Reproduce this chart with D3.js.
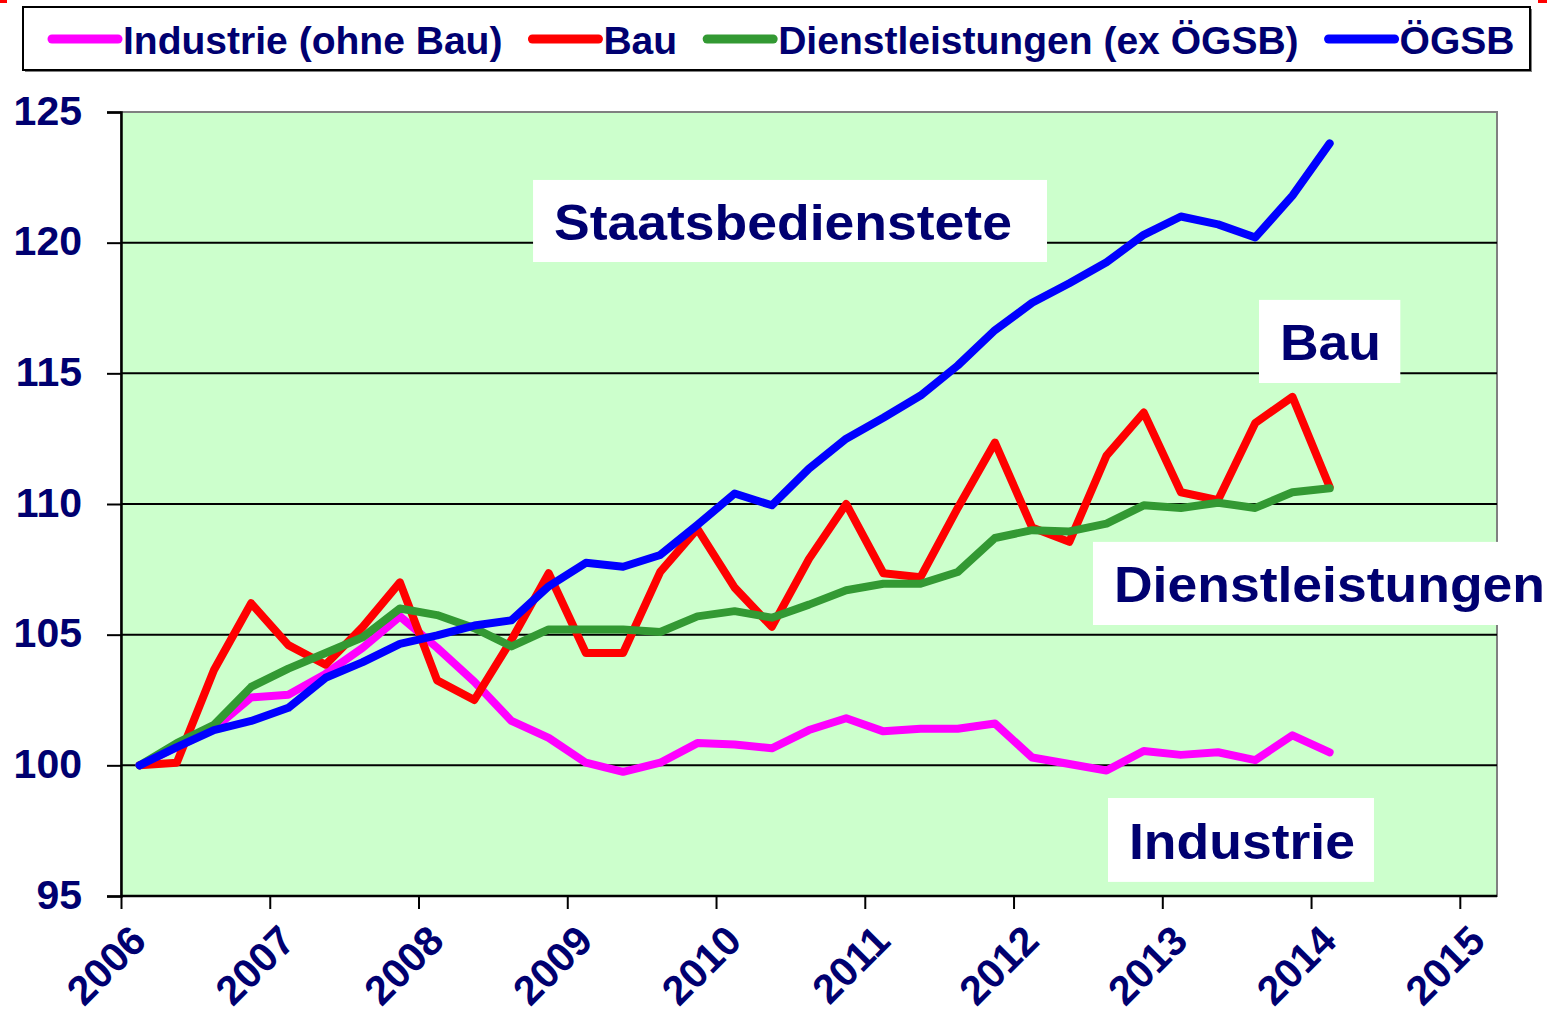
<!DOCTYPE html>
<html>
<head>
<meta charset="utf-8">
<script src="https://cdn.jsdelivr.net/npm/d3@7"></script>
<style>
  body { margin: 0; background: #fff; }
  svg { display: block; font-family: Arial, "Liberation Sans", sans-serif; font-weight: bold; }
</style>
</head>
<body>
<div id="chart"></div>
<script>
// quarterly index, 2006 Q1 = 100
var quarters = ["2006Q1","2006Q2","2006Q3","2006Q4","2007Q1","2007Q2","2007Q3","2007Q4",
  "2008Q1","2008Q2","2008Q3","2008Q4","2009Q1","2009Q2","2009Q3","2009Q4",
  "2010Q1","2010Q2","2010Q3","2010Q4","2011Q1","2011Q2","2011Q3","2011Q4",
  "2012Q1","2012Q2","2012Q3","2012Q4","2013Q1","2013Q2","2013Q3","2013Q4","2014Q1"];

var industrie = [100.0, 100.7, 101.4, 102.6, 102.7, 103.5, 104.5, 105.7,
  104.5, 103.2, 101.7, 101.05, 100.1, 99.75, 100.1, 100.85,
  100.8, 100.65, 101.35, 101.8, 101.3, 101.4, 101.4, 101.6,
  100.3, 100.05, 99.8, 100.55, 100.4, 100.5, 100.2, 101.15, 100.5];

var bau = [100.0, 100.1, 103.65, 106.2, 104.6, 103.85, 105.3, 107.0,
  103.25, 102.5, 104.8, 107.35, 104.3, 104.3, 107.4, 109.05,
  106.8, 105.3, 107.9, 110.0, 107.35, 107.2, 109.85, 112.35,
  109.1, 108.55, 111.85, 113.5, 110.45, 110.15, 113.1, 114.1, 110.65];

var dienstleistungen = [100.0, 100.85, 101.55, 103.0, 103.7, 104.3, 104.9, 106.0,
  105.75, 105.25, 104.55, 105.2, 105.2, 105.2, 105.1, 105.7,
  105.9, 105.65, 106.15, 106.7, 106.95, 106.95, 107.4, 108.7,
  109.0, 108.95, 109.25, 109.95, 109.85, 110.05, 109.85, 110.45, 110.6];

var oegsb = [100.0, 100.7, 101.35, 101.7, 102.2, 103.35, 103.95, 104.65,
  104.97, 105.35, 105.55, 106.85, 107.75, 107.6, 108.05, 109.2,
  110.4, 109.95, 111.35, 112.5, 113.3, 114.15, 115.3, 116.65,
  117.7, 118.45, 119.25, 120.3, 121.0, 120.7, 120.2, 121.8, 123.8];

var seriesNames = ["Industrie (ohne Bau)", "Bau", "Dienstleistungen (ex ÖGSB)", "ÖGSB"];
var seriesColors = ["#ff00ff", "#ff0000", "#339933", "#0000ff"];
var seriesValues = [industrie, bau, dienstleistungen, oegsb];

var yTicks = [95, 100, 105, 110, 115, 120, 125];
var xTicks = [2006, 2007, 2008, 2009, 2010, 2011, 2012, 2013, 2014, 2015];

// text boxes inside the plot, placed in data units
var annotations = [
  { text: "Staatsbedienstete", x0: 2008.77, x1: 2012.225, y0: 122.4, y1: 119.26 },
  { text: "Bau", x0: 2013.65, x1: 2014.6, y0: 117.81, y1: 114.63 },
  { text: "Dienstleistungen", x0: 2012.534, x1: 2015.6, y0: 108.55, y1: 105.37 },
  { text: "Industrie", x0: 2012.635, x1: 2014.423, y0: 98.75, y1: 95.54 }
];

var width = 1547, height = 1018;
var margin = { top: 112, right: 50, bottom: 122, left: 121 };
var textColor = "#000070";

var svg = d3.select("#chart").append("svg")
  .attr("width", width)
  .attr("height", height);

var x = d3.scaleLinear().domain([2006, 2015.25]).range([margin.left, width - margin.right]);
var y = d3.scaleLinear().domain([95, 125]).range([height - margin.bottom, margin.top]);

function quarterPos(q) {
  var yr = +q.slice(0, 4), n = +q.slice(5);
  return yr + (n - 1) / 4 + 0.125;
}

// the original text is a little wider than Liberation Sans Bold
function widen(sel, f) {
  sel.each(function () {
    var len = this.getComputedTextLength();
    d3.select(this).attr("textLength", len * f).attr("lengthAdjust", "spacingAndGlyphs");
  });
}

// plot background
svg.append("rect")
  .attr("x", x(2006)).attr("y", y(125))
  .attr("width", x(2015.25) - x(2006)).attr("height", y(95) - y(125))
  .style("fill", "#ccffcc")
  .style("stroke", "#808080")
  .style("stroke-width", 2);

// gridlines
svg.append("g").selectAll("line")
  .data(yTicks.filter(function (d) { return d > 95 && d < 125; }))
  .enter().append("line")
  .attr("x1", x(2006)).attr("x2", x(2015.25))
  .attr("y1", function (d) { return y(d); })
  .attr("y2", function (d) { return y(d); })
  .style("stroke", "#000")
  .style("stroke-width", 2);

// y axis
var yAxis = svg.append("g")
  .attr("transform", "translate(" + x(2006) + ",0)")
  .call(d3.axisLeft(y).tickValues(yTicks).tickSize(14).tickPadding(25));
yAxis.select(".domain").style("stroke", "#000").style("stroke-width", 2.5);
yAxis.selectAll(".tick line").style("stroke", "#000").style("stroke-width", 2);
yAxis.selectAll(".tick text")
  .style("font-size", "41px")
  .style("font-family", "Arial, 'Liberation Sans', sans-serif")
  .style("font-weight", "bold")
  .style("fill", textColor)
  .attr("dy", "0.3em");

// x axis
var xAxis = svg.append("g")
  .attr("transform", "translate(0," + y(95) + ")")
  .call(d3.axisBottom(x).tickValues(xTicks).tickSize(13).tickFormat(d3.format("d")));
xAxis.select(".domain").remove();
xAxis.append("line")
  .attr("x1", x(2006)).attr("x2", x(2015.25))
  .style("stroke", "#000").style("stroke-width", 2.5);
xAxis.selectAll(".tick line").style("stroke", "#000").style("stroke-width", 2);
xAxis.selectAll(".tick text")
  .style("font-size", "41px")
  .style("font-family", "Arial, 'Liberation Sans', sans-serif")
  .style("font-weight", "bold")
  .style("fill", textColor)
  .style("text-anchor", "end")
  .attr("y", 0)
  .attr("dy", 0)
  .attr("transform", "translate(27,47) rotate(-45)");

// lines
var line = d3.line()
  .x(function (d, i) { return x(quarterPos(quarters[i])); })
  .y(function (d) { return y(d); });

seriesValues.forEach(function (vals, k) {
  svg.append("path")
    .datum(vals)
    .attr("d", line)
    .style("fill", "none")
    .style("stroke", seriesColors[k])
    .style("stroke-width", 8)
    .style("stroke-linejoin", "round")
    .style("stroke-linecap", "round");
});

// annotation boxes
annotations.forEach(function (a) {
  var g = svg.append("g");
  g.append("rect")
    .attr("x", x(a.x0)).attr("y", y(a.y0))
    .attr("width", x(a.x1) - x(a.x0)).attr("height", y(a.y1) - y(a.y0))
    .style("fill", "#fff");
  var t = g.append("text")
    .attr("x", x(a.x0) + 21)
    .attr("y", (y(a.y0) + y(a.y1)) / 2 + 19)
    .style("font-size", "50px")
    .style("fill", textColor)
    .text(a.text);
  widen(t, 1.07);
});

// legend
var legend = svg.append("g");
legend.append("rect")
  .attr("x", 25).attr("y", 9).attr("width", 1507).attr("height", 63)
  .style("fill", "#808080");
legend.append("rect")
  .attr("x", 23).attr("y", 7).attr("width", 1507).attr("height", 63)
  .style("fill", "#fff")
  .style("stroke", "#000")
  .style("stroke-width", 2);

var lx = 52;
seriesNames.forEach(function (name, k) {
  legend.append("line")
    .attr("x1", lx).attr("x2", lx + 66)
    .attr("y1", 39).attr("y2", 39)
    .style("stroke", seriesColors[k])
    .style("stroke-width", 9)
    .style("stroke-linecap", "round");
  var t = legend.append("text")
    .attr("x", lx + 71)
    .attr("y", 54)
    .style("font-size", "38px")
    .style("fill", textColor)
    .text(name);
  var len = t.node().getComputedTextLength() * 1.027;
  widen(t, 1.027);
  lx = lx + 71 + len + 30;
});

// small red marks at top corners
svg.append("rect").attr("x", 0).attr("y", 0).attr("width", 7).attr("height", 3).style("fill", "#ff0000");
svg.append("rect").attr("x", 1538).attr("y", 0).attr("width", 9).attr("height", 3).style("fill", "#ff0000");
</script>
</body>
</html>
